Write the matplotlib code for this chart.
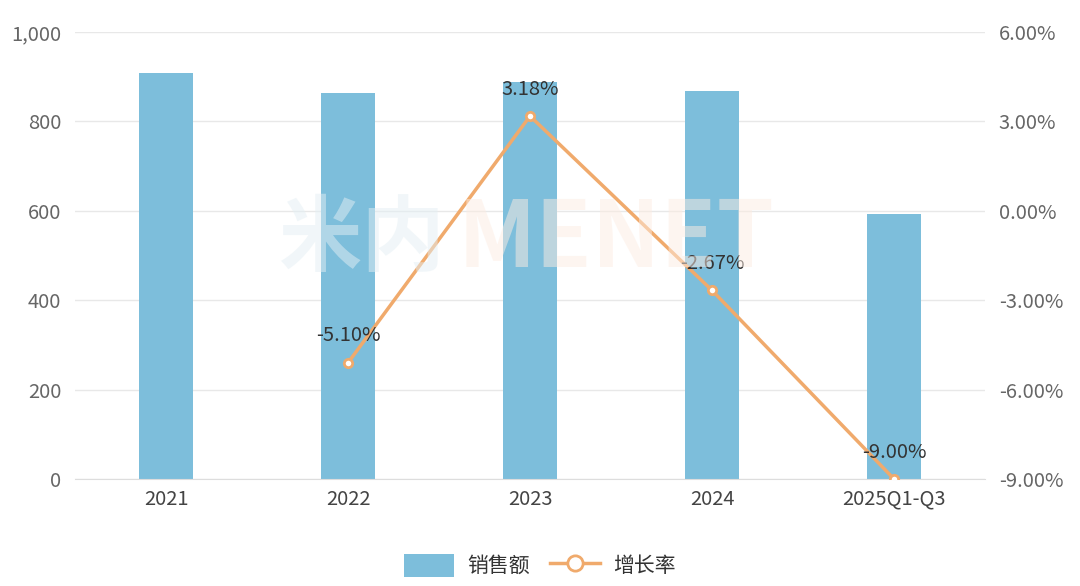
import matplotlib.pyplot as plt
from matplotlib.ticker import FuncFormatter

plt.rcParams['font.family'] = ['Noto Sans CJK SC', 'DejaVu Sans']

years = ["2021", "2022", "2023", "2024", "2025Q1-Q3"]
sales = [908, 863, 888, 868, 593]
growth_x = [1, 2, 3, 4]
growth = [-5.10, 3.18, -2.67, -9.00]

BAR = "#7dbedb"
LINE = "#f0aa6c"
GRID = "#e8e8e8"
TICK = "#666666"

fig = plt.figure(figsize=(10.8, 5.86), dpi=100)
ax = fig.add_axes([75 / 1080, 1 - 479 / 586, 910 / 1080, 447 / 586])
ax2 = ax.twinx()

# faint watermark
fig.text(0.335, 0.59, "米内", color="#e4eff4", fontsize=60, fontweight="bold",
         ha="center", va="center", alpha=0.5, zorder=0)
fig.text(0.57, 0.59, "MENET", color="#fdece2", fontsize=66, fontweight="bold",
         ha="center", va="center", alpha=0.5, zorder=0)

x = range(len(years))
ax.bar(x, sales, width=0.3, color=BAR, zorder=2, label="销售额")
ax.set_ylim(0, 1000)
ax.set_yticks(range(0, 1001, 200))
ax.yaxis.set_major_formatter(FuncFormatter(lambda v, p: f"{int(v):,}"))
ax.set_xlim(-0.5, 4.5)
ax.set_xticks(list(x))
ax.set_xticklabels(years)
ax.grid(axis="y", color=GRID, linewidth=1, zorder=0)
ax.set_axisbelow(True)

ax2.plot(growth_x, growth, color=LINE, linewidth=2.5, marker="o", markersize=6,
         markerfacecolor="white", markeredgecolor=LINE, markeredgewidth=2,
         zorder=3, label="增长率")
for gx, gy in zip(growth_x, growth):
    ax2.text(gx, gy + 0.55, f"{gy:.2f}%", ha="center", va="bottom",
             fontsize=14.5, color="#333333")
ax2.set_ylim(-9, 6)
ax2.set_yticks([-9, -6, -3, 0, 3, 6])
ax2.yaxis.set_major_formatter(FuncFormatter(lambda v, p: f"{v:.2f}%"))

for a in (ax, ax2):
    for s in a.spines.values():
        s.set_visible(False)
    a.tick_params(length=0, labelsize=14.5, labelcolor=TICK, pad=10)
ax.spines["bottom"].set_visible(True)
ax.spines["bottom"].set_color("#dddddd")
ax.tick_params(axis="x", labelcolor="#444444", pad=7)

h1, l1 = ax.get_legend_handles_labels()
h2, l2 = ax2.get_legend_handles_labels()
leg = fig.legend(h1 + h2, l1 + l2, loc="center", bbox_to_anchor=(0.5, 0.035),
                 ncol=2, frameon=False, fontsize=15, handlelength=2.4,
                 handleheight=1.3, columnspacing=1.0, handletextpad=0.6)
for t in leg.get_texts():
    t.set_color("#333333")
leg.legend_handles[1].set_markersize(11)

fig.savefig("out.png", dpi=100)
